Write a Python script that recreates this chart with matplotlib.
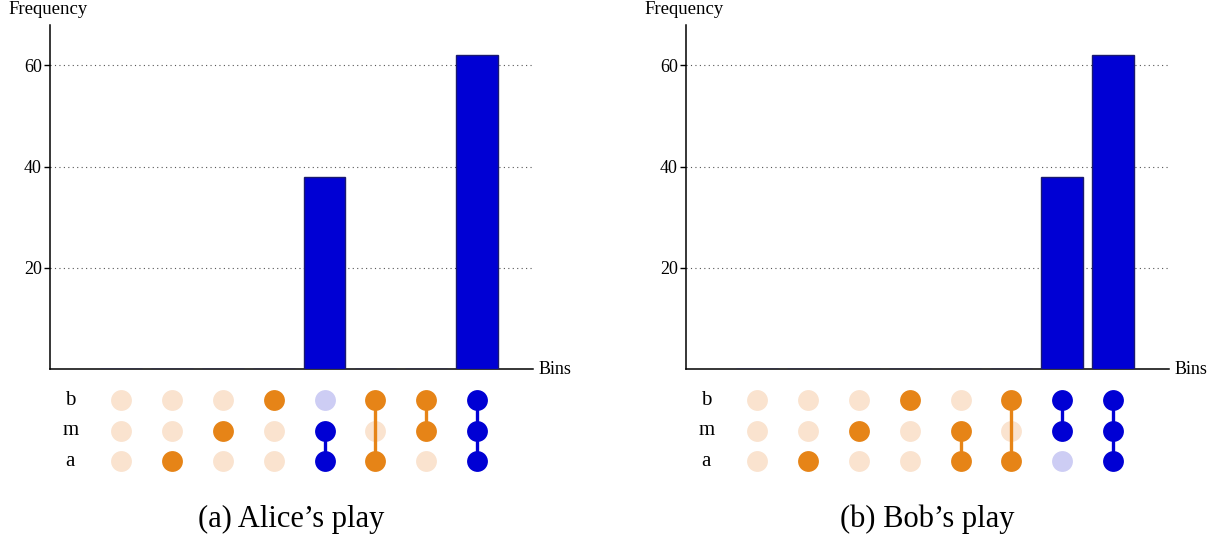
import numpy as np
import matplotlib.pyplot as plt

plt.rcParams["font.family"] = ["Liberation Serif", "DejaVu Serif"]

BLUE = "#0000d4"
LIGHT_BLUE = "#cdcdf4"
ORANGE = "#e68417"
LIGHT_ORANGE = "#fae3cf"

ROWS = ["a", "m", "b"]
BIN_SETS = [[], ["a"], ["m"], ["b"], ["a", "m"], ["a", "b"], ["m", "b"], ["a", "m", "b"]]
ALICE_FREQ = [0, 0, 0, 0, 38, 0, 0, 62]
BOB_FREQ = [0, 0, 0, 0, 0, 0, 38, 62]
Y_TICKS = [20, 40, 60]
CAPTIONS = ["(a) Alice\u2019s play", "(b) Bob\u2019s play"]

W, H = 1221, 541


def px_box(left, top, right, bottom):
    return [left / W, 1 - bottom / H, (right - left) / W, (bottom - top) / H]


def draw_panel(fig, left_px, freqs, caption):
    x = np.arange(1, len(freqs) + 1)
    xlim = (-0.4, 9.1)

    # bar chart
    ax = fig.add_axes(px_box(left_px, 25, left_px + 483, 369))
    ax.bar(x, freqs, width=0.82, color=BLUE, edgecolor="#1a1a70", linewidth=1.0, zorder=3)
    ax.set_xlim(*xlim)
    ax.set_ylim(0, 68)
    ax.set_yticks(Y_TICKS)
    ax.tick_params(axis="y", length=4, width=1, labelsize=13, pad=2)
    ax.set_xticks([])
    ax.yaxis.grid(True, linestyle=(0, (1, 3)), color="#555555", linewidth=0.8)
    for side in ["top", "right"]:
        ax.spines[side].set_visible(False)
    ax.spines["left"].set_linewidth(1.1)
    ax.spines["bottom"].set_linewidth(1.1)
    ax.set_axisbelow(True)

    fig.text((left_px - 42) / W, 1 - 9 / H, "Frequency", fontsize=13.5, ha="left", va="center")
    fig.text((left_px + 489) / W, 1 - 369 / H, "Bins", fontsize=13, ha="left", va="center")

    # dot matrix
    dax = fig.add_axes(px_box(left_px, 385, left_px + 483, 476.5))
    dax.set_xlim(*xlim)
    dax.set_ylim(-0.5, 2.5)
    dax.axis("off")
    for j, name in enumerate(ROWS):
        dax.text(0, j, name, fontsize=15, ha="center", va="center")
    for i, members in enumerate(BIN_SETS):
        active = BLUE if freqs[i] > 0 else ORANGE
        inactive = LIGHT_BLUE if freqs[i] > 0 else LIGHT_ORANGE
        on = [j for j, name in enumerate(ROWS) if name in members]
        off = [j for j, name in enumerate(ROWS) if name not in members]
        if not on:
            active, inactive = ORANGE, LIGHT_ORANGE
        dax.plot([x[i]] * len(off), off, "o", color=inactive, markersize=15,
                 markeredgewidth=0, zorder=2)
        if len(on) > 1:
            dax.plot([x[i], x[i]], [min(on), max(on)], color=active, linewidth=2.4, zorder=3)
        dax.plot([x[i]] * len(on), on, "o", color=active, markersize=15,
                 markeredgewidth=0, zorder=4)

    fig.text((left_px + 241.5) / W, 1 - 519 / H, caption, fontsize=22, ha="center", va="center")


fig = plt.figure(figsize=(W / 100, H / 100), dpi=100)
draw_panel(fig, 50, ALICE_FREQ, CAPTIONS[0])
draw_panel(fig, 686, BOB_FREQ, CAPTIONS[1])
fig.savefig("out.png", dpi=100)
